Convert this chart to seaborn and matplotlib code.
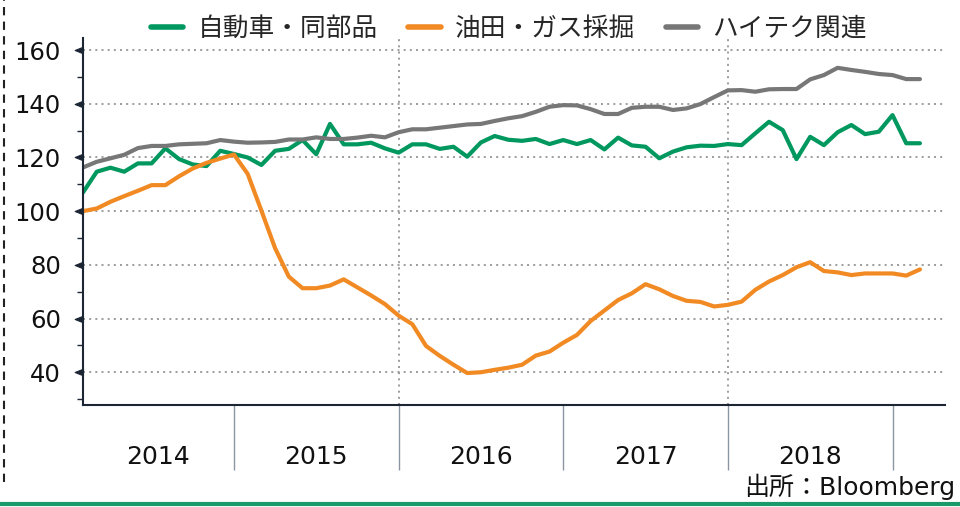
import numpy as np
import pandas as pd
import matplotlib
matplotlib.use('Agg')
import matplotlib.pyplot as plt
from matplotlib.lines import Line2D
from matplotlib.path import Path
import seaborn as sns

# === データ (月次, 2014年1月 = 100) ===
months = pd.date_range('2014-01-01', periods=62, freq='MS')

auto = [107, 114.7, 116.2, 114.7, 117.8, 117.8, 123.4, 119.4, 117.4, 116.8, 122.5, 121.3,
        120, 117.2, 122.5, 123.2, 126.5, 121.2, 132.5, 124.9, 124.9, 125.5, 123.4, 121.8,
        124.9, 124.9, 123.2, 124, 120.3, 125.6, 128, 126.6, 126.2, 126.9, 125, 126.5,
        125, 126.5, 123, 127.4, 124.5, 124, 119.7, 122.2, 123.8, 124.4, 124.3, 125,
        124.6, 129, 133.3, 130.2, 119.4, 127.7, 124.6, 129.4, 132.1, 128.7, 129.6, 135.8,
        125.3, 125.3]
oil = [100, 101, 103.5, 105.6, 107.6, 109.7, 109.7, 113, 115.9, 118, 119.6, 121.1,
       113.9, 100.2, 86.2, 75.6, 71.3, 71.3, 72.3, 74.6, 71.6, 68.6, 65.4, 61.1,
       57.9, 49.8, 46.1, 42.8, 39.7, 40, 40.9, 41.7, 42.8, 46.2, 47.7, 51,
       53.9, 59.1, 63, 66.9, 69.4, 72.8, 70.9, 68.4, 66.6, 66.2, 64.5, 65.1,
       66.3, 70.7, 73.8, 76.2, 79.1, 81, 77.7, 77.2, 76.2, 76.8, 76.8, 76.8,
       76, 78.3]
tech = [116.3, 118.4, 119.7, 121, 123.5, 124.3, 124.3, 124.9, 125.1, 125.3, 126.5, 125.9,
        125.5, 125.6, 125.8, 126.7, 126.7, 127.5, 126.9, 126.9, 127.4, 128.1, 127.5, 129.4,
        130.5, 130.5, 131.1, 131.7, 132.3, 132.5, 133.6, 134.6, 135.4, 137, 138.9, 139.5,
        139.4, 138, 136.2, 136.2, 138.5, 138.9, 138.9, 137.7, 138.3, 139.9, 142.5, 145,
        145.1, 144.5, 145.4, 145.5, 145.5, 149.1, 150.7, 153.4, 152.6, 151.9, 151.1, 150.7,
        149.2, 149.2]

series_names = ['自動車・同部品', '油田・ガス採掘', 'ハイテク関連']
colors = ['#00985f', '#f28a24', '#777777']
years = [2014, 2015, 2016, 2017, 2018]
grid_years = [2015, 2017]

sns.set_style('white')
plt.rcParams['font.family'] = ['DejaVu Sans', 'Noto Sans CJK JP']

t = np.arange(len(months))
df = pd.DataFrame({
    't': np.tile(t, 3),
    'value': auto + oil + tech,
    'series': np.repeat(series_names, len(t)),
})

fig = plt.figure(figsize=(9.6, 5.07), dpi=100)
ax = fig.add_axes([0.0865, 0.2012, 0.8975, 0.7238])

# 年の区切り (12月) とグリッド
dec_idx = [i for i, m in enumerate(months) if m.month == 12]
grid_idx = [i for i, m in enumerate(months) if m.month == 12 and m.year in grid_years]
ax.vlines(grid_idx, 0, 1, transform=ax.get_xaxis_transform(),
          colors='#8c8c8c', linestyles=(0, (1.2, 2.5)), linewidth=1.2, zorder=0)
ax.yaxis.grid(True, color='#8c8c8c', linestyle=(0, (1.2, 2.5)), linewidth=1.2)

sns.lineplot(data=df, x='t', y='value', hue='series', hue_order=series_names,
             palette=colors, linewidth=3, ax=ax, legend=False)

ax.set_xlim(0, 62.8)
ax.set_ylim(27.8, 164.5)
ax.set_xlabel('')
ax.set_ylabel('')

# x軸: 区切り線 + 年ラベル
bounds = [0] + dec_idx
centers = [(bounds[k] + bounds[k + 1]) / 2 for k in range(len(years))]
ax.set_xticks(dec_idx)
ax.set_xticklabels([])
ax.set_xticks(centers, minor=True)
ax.set_xticklabels([str(y) for y in years], minor=True, fontsize=18, color='#111111')
ax.tick_params(axis='x', which='major', bottom=True, direction='out', length=47,
               width=1, color='#8a96a3')
ax.tick_params(axis='x', which='minor', bottom=True, length=0, pad=29)

# y軸
ax.set_yticks(np.arange(40, 161, 20))
ax.set_yticks(np.arange(30, 151, 20), minor=True)
ax.tick_params(axis='y', which='major', left=True, labelsize=17.5, labelcolor='#111111',
               pad=11, length=5, color='#1c2533')
ax.tick_params(axis='y', which='minor', left=True, direction='out', length=4.5,
               width=1, color='#1c2533')
tri = Path([(0, 0.4), (-1, 0), (0, -0.4), (0, 0.4)])
for tk in ax.yaxis.get_major_ticks():
    tk.tick1line.set_marker(tri)
    tk.tick1line.set_markersize(12)
    tk.tick1line.set_markerfacecolor('#1c2533')
    tk.tick1line.set_markeredgecolor('#1c2533')

for side in ['top', 'right']:
    ax.spines[side].set_visible(False)
for side in ['left', 'bottom']:
    ax.spines[side].set_color('#1c2533')
    ax.spines[side].set_linewidth(1.5)

# 凡例
handles = [Line2D([0], [0], color=c, linewidth=4) for c in colors]
fig.legend(handles, series_names, loc='upper center', bbox_to_anchor=(0.53, 1.015),
           ncol=3, frameon=False, fontsize=18.5, handlelength=1.25,
           handletextpad=0.55, columnspacing=1.2)

fig.text(0.995, 0.04, '出所：Bloomberg', ha='right', va='center', fontsize=18, color='#111111')

# 装飾線
fig.add_artist(Line2D([0, 1], [0.006, 0.006], color='#1a9a6a', linewidth=3))
fig.add_artist(Line2D([0.004, 0.004], [0.05, 1], color='#222222', linewidth=1.5,
                      linestyle=(0, (4, 3))))

fig.savefig('out.png', dpi=100)
